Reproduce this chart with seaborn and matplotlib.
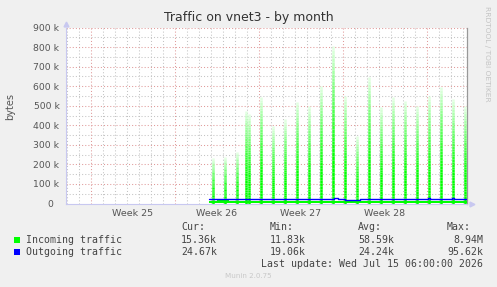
import numpy as np
import pandas as pd
import matplotlib
matplotlib.use("Agg")
import matplotlib.pyplot as plt
import seaborn as sns
from matplotlib.collections import LineCollection
from matplotlib.colors import to_rgb
from matplotlib.patches import Rectangle
from matplotlib.ticker import FixedLocator, FuncFormatter

# ---------------- data (x = days since Monday of week 25) ----------------
title = "Traffic on vnet3 - by month"
week_labels = ["Week 25", "Week 26", "Week 27", "Week 28"]
week_starts = [0, 7, 14, 21, 28]

# incoming traffic daily spikes (bytes)
spike_days = [10.17, 11.17, 12.17, 12.94, 13.19, 14.19, 15.19, 16.19, 17.17, 18.17,
              19.17, 20.17, 21.19, 22.17, 23.19, 24.19, 25.17, 26.17, 27.17, 28.17,
              29.17, 30.17, 31.19]
spike_vals = [235e3, 240e3, 265e3, 475e3, 460e3, 545e3, 395e3, 430e3, 520e3, 500e3,
              600e3, 805e3, 550e3, 345e3, 645e3, 495e3, 545e3, 525e3, 500e3, 550e3,
              595e3, 535e3, 500e3]

# incoming traffic baseline
in_days = [9.87, 10.5, 11.5, 12.5, 13.5, 14.5, 15.5, 16.5, 17.5, 18.5, 19.5, 20.5,
           21.5, 22.5, 23.5, 24.5, 25.5, 26.5, 27.5, 28.5, 29.5, 30.5, 31.36]
in_vals = [14e3, 16e3, 15e3, 14e3, 13e3, 13e3, 14e3, 13e3, 12e3, 12e3, 12e3, 13e3,
           12e3, 12e3, 13e3, 12e3, 13e3, 12e3, 12e3, 12e3, 13e3, 13e3, 13e3]

# outgoing traffic
out_days = [9.87, 13.7, 13.95, 14.1, 20.05, 20.3, 20.6, 21.2, 22.45, 27.3, 27.8,
            28.1, 28.3, 30.1, 30.3, 31.36]
out_vals = [24.5e3, 24.5e3, 21.5e3, 24.5e3, 24.5e3, 27.5e3, 22e3, 19.5e3, 24.3e3,
            20.5e3, 21e3, 27e3, 24.5e3, 26e3, 24.6e3, 24.7e3]

legend_rows = [
    ("Incoming traffic", "15.36k", "11.83k", "58.59k", "8.94M"),
    ("Outgoing traffic", "24.67k", "19.06k", "24.24k", "95.62k"),
]
legend_colors = ["#00ff00", "#0000ff"]
last_update = "Last update: Wed Jul 15 06:00:00 2026"
footer = "Munin 2.0.75"

# ---------------- figure ----------------
sns.set_theme(style="white")
plt.rcParams["font.family"] = ["DejaVu Sans"]

W, H = 497, 287
def fx(px): return px / W
def fy(py): return 1 - py / H

fig = plt.figure(figsize=(W / 100, H / 100), dpi=100, facecolor="#f0f0f0")
ax = fig.add_axes([fx(66), fy(203.5), (467 - 66) / W, (203.5 - 27.5) / H])
ax.set_facecolor("white")
xmin, xmax = -2.06, 31.36

grid_gray = "#c4c4c4"
grid_red = "#e09a9a"
dot = (0, (1, 2))
for d in np.arange(-2, 32):
    if d % 7 != 0:
        ax.axvline(d, color=grid_gray, lw=0.75, ls=dot, zorder=0)
for d in week_starts:
    ax.axvline(d, color=grid_red, lw=0.75, ls=dot, zorder=0.5)
for v in np.arange(50e3, 900e3, 100e3):
    ax.axhline(v, color=grid_gray, lw=0.75, ls=dot, zorder=0)
for v in np.arange(100e3, 900e3 + 1, 100e3):
    ax.axhline(v, color=grid_red, lw=0.75, ls=dot, zorder=0.5)

# incoming area baseline
ax.fill_between(in_days, 0, in_vals, step="post", color="#00ff00", lw=0, zorder=2)

# incoming spikes with vertical gradient
g = np.array(to_rgb("#00ff00"))
w = np.array([1.0, 1.0, 1.0])
N = 40
segs, cols = [], []
for d, v in zip(spike_days, spike_vals):
    for k in range(N):
        t = (k + 0.5) / N
        f = (np.clip((t - 0.25) / 0.75, 0, 1) ** 1.3) * 0.9
        segs.append([(d, v * k / N), (d, v * (k + 1) / N)])
        cols.append(g * (1 - f) + w * f)
ax.add_collection(LineCollection(segs, colors=cols, linewidths=1.8,
                                 capstyle="butt", zorder=3))

# outgoing line
df_out = pd.DataFrame({"day": out_days, "bytes": out_vals})
sns.lineplot(data=df_out, x="day", y="bytes", ax=ax, color="#0000ff", lw=1.0,
             drawstyle="steps-post", legend=False)
ax.lines[-1].set_zorder(6)
ax.set_xlim(xmin, xmax)
ax.set_ylim(0, 900e3)
ax.set_xlabel("")
ax.set_ylabel("")

# ticks
ax.yaxis.set_major_locator(FixedLocator(np.arange(0, 900e3 + 1, 100e3)))
ax.yaxis.set_major_formatter(FuncFormatter(lambda v, p: "0  " if v == 0 else f"{int(v/1000)} k"))
ax.tick_params(axis="y", length=0, pad=4.7, labelsize=6.7, labelcolor="#555555")

ax.xaxis.set_major_locator(FixedLocator([3.5, 10.5, 17.5, 24.5]))
ax.set_xticklabels(week_labels)
ax.xaxis.set_minor_locator(FixedLocator(np.arange(-2, 32)))
ax.tick_params(axis="x", which="major", length=0, pad=4.3, labelsize=6.8, labelcolor="#555555")
ax.tick_params(axis="x", which="minor", length=2, width=0.7, color="#c0c0c0", direction="out")
for tk in ax.xaxis.get_minor_ticks():
    if round(tk.get_loc()) % 7 == 0:
        tk.tick1line.set_color("#e08080")

ax.spines["top"].set_visible(False)
ax.spines["left"].set_color("#c8c8f0")
ax.spines["bottom"].set_color("#c8c8f0")
ax.spines["left"].set_linewidth(0.8)
ax.spines["bottom"].set_linewidth(0.8)
ax.spines["right"].set_color("#999999")
ax.spines["right"].set_linewidth(0.9)

# axis arrows
ax.plot([0], [1.022], marker="^", ms=3.5, color="#c8c8f0", transform=ax.transAxes, clip_on=False)
ax.plot([1.012], [0], marker=">", ms=3.5, color="#c8c8f0", transform=ax.transAxes, clip_on=False)

# texts
fig.text(fx(248.5), fy(17.5), title, ha="center", va="center", fontsize=9, color="#333333")
fig.text(fx(10), fy(106), "bytes", rotation=90, ha="center", va="center", fontsize=7, color="#555555")
fig.text(fx(487.5), fy(53.5), "RRDTOOL / TOBI OETIKER", rotation=270, ha="center", va="center",
         fontsize=5.4, color="#c4c4c4")

mono = dict(family="DejaVu Sans Mono", fontsize=7.1, color="#444444", va="center")
fig.text(fx(181), fy(227.5), "Cur:", ha="left", **mono)
fig.text(fx(269.3), fy(227.5), "Min:", ha="left", **mono)
fig.text(fx(358.3), fy(227.5), "Avg:", ha="left", **mono)
fig.text(fx(470.5), fy(227.5), "Max:", ha="right", **mono)
for i, (name, cur, mn, avg, mx) in enumerate(legend_rows):
    y = 239.7 + 12 * i
    fig.patches.append(Rectangle((fx(14), fy(y + 3)), 6 / W, 6 / H, transform=fig.transFigure,
                                 color=legend_colors[i], lw=0))
    fig.text(fx(26.3), fy(y), name, ha="left", **mono)
    fig.text(fx(181), fy(y), cur, ha="left", **mono)
    fig.text(fx(269.3), fy(y), mn, ha="left", **mono)
    fig.text(fx(358.3), fy(y), avg, ha="left", **mono)
    fig.text(fx(483.3), fy(y), mx, ha="right", **mono)
fig.text(fx(483.3), fy(263.7), last_update, ha="right", **mono)
fig.text(fx(248), fy(276.3), footer, ha="center", va="center", fontsize=5.1, color="#c8c8c8")

fig.savefig("out.png", dpi=100, facecolor=fig.get_facecolor())
